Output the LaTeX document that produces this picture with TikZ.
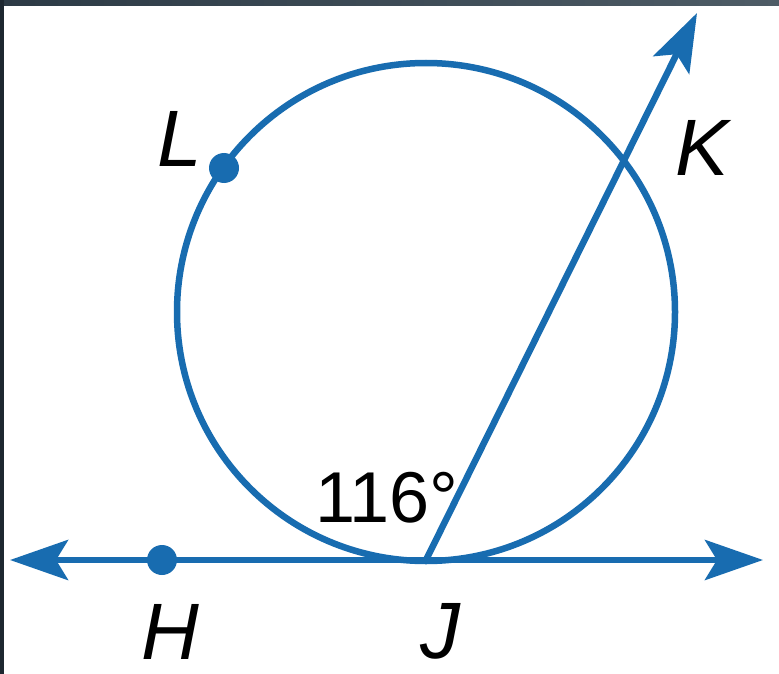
\documentclass[tikz,border=0pt]{standalone}
\usepackage{fontspec}
\setmainfont{Liberation Sans}
\usetikzlibrary{arrows.meta}
\definecolor{geoblue}{RGB}{24,108,176}
\definecolor{bandL}{RGB}{44,58,69}
\definecolor{bandR}{RGB}{78,92,102}
\definecolor{sideband}{RGB}{29,39,48}
\tikzset{
  geoline/.style={draw=geoblue, line width=6.5pt},
  geotip/.style={-{Stealth[length=58pt,width=40pt,inset=12pt]}},
  geotips/.style={{Stealth[length=58pt,width=40pt,inset=12pt]}-{Stealth[length=58pt,width=40pt,inset=12pt]}},
  geodot/.style={fill=geoblue},
  ptlabel/.style={font=\fontsize{80}{80}\selectfont\itshape, text=black, inner sep=0pt},
  anglabel/.style={font=\fontsize{72}{72}\selectfont, text=black, inner sep=0pt}
}
\begin{document}
\begin{tikzpicture}[x=1pt,y=-1pt]
\useasboundingbox (0,0) rectangle (779,674);
\fill[white] (0,0) rectangle (779,674);
\shade[left color=bandL, right color=bandR] (0,0) rectangle (779,6);
\fill[sideband] (0,0) rectangle (4,674);
% points
\coordinate (C) at (426,312);
\coordinate (J) at (426,560);
\coordinate (H) at (162,560);
\coordinate (L) at (224,168);
\coordinate (K) at (623,162);
\coordinate (leftend) at (10,560);
\coordinate (rightend) at (763,560);
\coordinate (rayend) at (697,13);
% circle
\draw[geoline] (C) circle (249);
% tangent line with arrows both ways
\draw[geoline, geotips] (leftend) -- (rightend);
% secant ray
\draw[geoline, geotip] (J) -- (rayend);
% dots
\fill[geodot] (H) circle (15);
\fill[geodot] (L) circle (15);
% labels
\node[ptlabel] (Hlab) at (170,632) {H};
\node[ptlabel] (Jlab) at (440,631) {J};
\node[ptlabel] (Klab) at (702,148) {K};
\node[ptlabel] (Llab) at (180,139) {L};
\node[anglabel, anchor=base west] (ang) at (315,522) {116°};
\end{tikzpicture}
\end{document}
